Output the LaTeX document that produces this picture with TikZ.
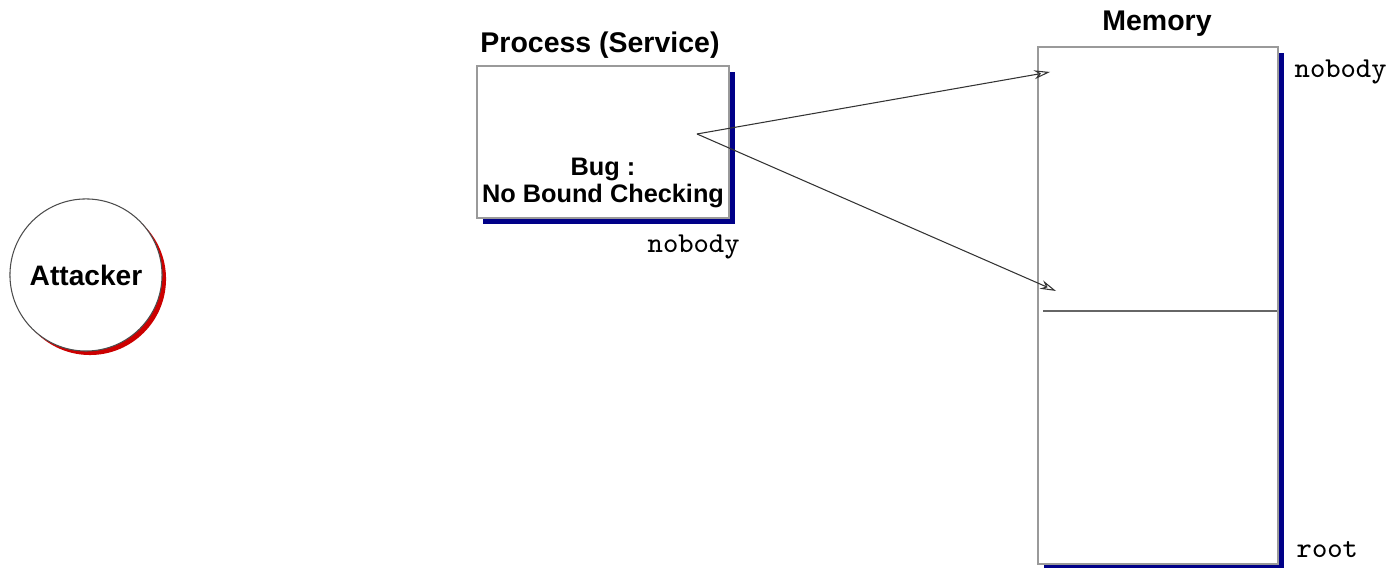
\documentclass[tikz,border=0pt]{standalone}
\usepackage{fontspec}
\setmainfont{Liberation Sans}
\usetikzlibrary{arrows.meta}
\definecolor{shblue}{HTML}{000088}
\definecolor{shred}{HTML}{CC0000}
\definecolor{edge}{HTML}{9A9A9A}
\begin{document}
\begin{tikzpicture}[x=0.01cm,y=-0.01cm,
  boxst/.style={draw=edge,line width=0.45pt,fill=white,inner sep=0pt,anchor=north west},
  shadowblue/.style={fill=shblue,draw=none,inner sep=0pt,anchor=north west},
  titlest/.style={font=\bfseries\fontsize{8.1}{9}\selectfont,inner sep=0pt},
  monost/.style={font=\ttfamily\fontsize{8.2}{9}\selectfont,inner sep=0pt,anchor=base west},
  arrowst/.style={draw=black!80,line width=0.3pt,-{Stealth[open,length=1.6mm,width=0.9mm]}}]
\useasboundingbox (0,0) rectangle (1390,568);
% Attacker
\node[circle,fill=shred,minimum size=1.52cm,inner sep=0pt] (attsh) at (90,279) {};
\node[circle,draw=black!70,line width=0.3pt,fill=white,minimum size=1.52cm,inner sep=0pt,font=\bfseries\fontsize{8}{9}\selectfont] (att) at (86,275) {Attacker};
% Process
\node[shadowblue,minimum width=2.52cm,minimum height=1.52cm] (procsh) at (482,71) {};
\node[boxst,minimum width=2.52cm,minimum height=1.52cm] (proc) at (476,65) {};
\node[titlest] (proctitle) at (600,45) {Process (Service)};
\node[font=\bfseries\fontsize{7.2}{7.6}\selectfont,align=center,inner sep=0pt] (bug) at (603,183) {Bug :\\No Bound Checking};
\node[monost] (procuser) at (647,253) {nobody};
% Memory
\node[shadowblue,minimum width=2.40cm,minimum height=5.17cm] (memsh) at (1043,52) {};
\node[boxst,minimum width=2.40cm,minimum height=5.17cm] (mem) at (1037,46) {};
\node[titlest] (memtitle) at (1157,24) {Memory};
\node[monost] (memtop) at (1294,78) {nobody};
\node[monost] (membot) at (1296,558) {root};
\coordinate (divl) at (1043,311);
\coordinate (divr) at (1277,311);
\draw[draw=black!60,line width=0.35pt] (divl) -- (divr);
% Arrows
\coordinate (src) at (697,134);
\coordinate (t1) at (1050,72);
\coordinate (t2) at (1056,291);
\draw[arrowst] (src) -- (t1);
\draw[arrowst] (src) -- (t2);
\end{tikzpicture}
\end{document}
